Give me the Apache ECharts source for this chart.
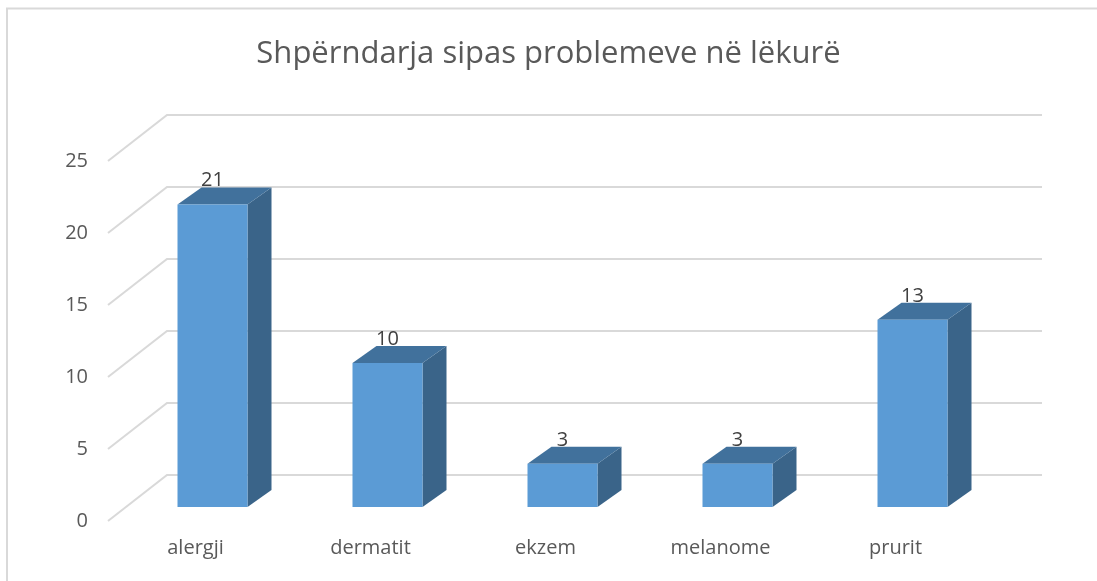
<!DOCTYPE html>
<html>
<head>
<meta charset="utf-8">
<script src="https://cdn.jsdelivr.net/npm/echarts@6/dist/echarts.min.js"></script>
<style>
  html, body { margin: 0; padding: 0; background: #fff; }
  #container { width: 1097px; height: 581px; }
</style>
</head>
<body>
<div id="container"></div>
<script>
// categories and values
var categories = ['alergji', 'dermatit', 'ekzem', 'melanome', 'prurit'];
var values = [21, 10, 3, 3, 13];
var yTicks = [0, 5, 10, 15, 20, 25];

var titleText = 'Shpërndarja sipas problemeve në lëkurë';

// 3D look: offsets of the back wall and of the bar depth
var wallDx = 59, wallDy = -46;
var barDx = 17, barDy = -14;
var depthDx = 24, depthDy = -17;

var myChart = echarts.init(document.getElementById('container'));

function renderGrid(params, api) {
	var v = api.value(1);
	var p = api.coord([0, v]);
	var x0 = params.coordSys.x;
	var w = params.coordSys.width;
	var y = p[1];
	return {
		type: 'polyline',
		shape: {
			points: [[x0, y], [x0 + wallDx, y + wallDy], [x0 + w + wallDx, y + wallDy]]
		},
		style: { stroke: '#D9D9D9', lineWidth: 2, fill: null },
		silent: true
	};
}

function renderBar(params, api) {
	var i = api.value(0);
	var v = api.value(1);
	var base = api.coord([i, 0]);
	var top = api.coord([i, v]);
	var bw = api.size([1, 0])[0] * 0.4;
	var cx = base[0] + barDx;
	var x1 = cx - bw / 2, x2 = cx + bw / 2;
	var yb = base[1] + barDy, yt = top[1] + barDy;
	return {
		type: 'group',
		children: [
			{
				type: 'polygon',
				shape: { points: [[x2, yt], [x2 + depthDx, yt + depthDy], [x2 + depthDx, yb + depthDy], [x2, yb]] },
				style: { fill: '#3A6489' }
			},
			{
				type: 'polygon',
				shape: { points: [[x1, yt], [x2, yt], [x2 + depthDx, yt + depthDy], [x1 + depthDx, yt + depthDy]] },
				style: { fill: '#41719C' }
			},
			{
				type: 'rect',
				shape: { x: x1, y: yt, width: bw, height: yb - yt },
				style: { fill: '#5B9BD5' }
			},
			{
				type: 'text',
				x: cx,
				y: yt + depthDy + 3,
				style: {
					text: String(v),
					align: 'center',
					verticalAlign: 'bottom',
					fill: '#404040',
					font: '20px "Open Sans", sans-serif'
				}
			}
		]
	};
}

var option = {
	animation: false,
	backgroundColor: '#fff',
	title: {
		text: titleText,
		left: 'center',
		top: 34,
		textStyle: {
			color: '#595959',
			fontSize: 31,
			fontWeight: 'normal',
			fontFamily: '"Open Sans", sans-serif'
		}
	},
	graphic: [
		{ type: 'line', shape: { x1: 6, y1: 8.5, x2: 1097, y2: 8.5 }, style: { stroke: '#D9D9D9', lineWidth: 2 } },
		{ type: 'line', shape: { x1: 7, y1: 8, x2: 7, y2: 581 }, style: { stroke: '#D9D9D9', lineWidth: 2 } }
	],
	grid: {
		left: 108,
		right: 114,
		top: 161,
		bottom: 60
	},
	xAxis: {
		type: 'category',
		data: categories,
		axisLine: { show: false },
		axisTick: { show: false },
		axisLabel: {
			color: '#595959',
			fontSize: 20,
			fontFamily: '"Open Sans", sans-serif',
			margin: 17
		}
	},
	yAxis: {
		type: 'value',
		min: 0,
		max: 25,
		interval: 5,
		axisLine: { show: false },
		axisTick: { show: false },
		splitLine: { show: false },
		axisLabel: {
			color: '#595959',
			fontSize: 20,
			fontFamily: '"Open Sans", sans-serif',
			margin: 20
		}
	},
	series: [
		{
			type: 'custom',
			z: 1,
			renderItem: renderGrid,
			data: yTicks.map(function(v) { return [0, v]; })
		},
		{
			type: 'custom',
			z: 2,
			renderItem: renderBar,
			data: values.map(function(v, i) { return [i, v]; })
		}
	]
};
myChart.setOption(option);
</script>
</body>
</html>
